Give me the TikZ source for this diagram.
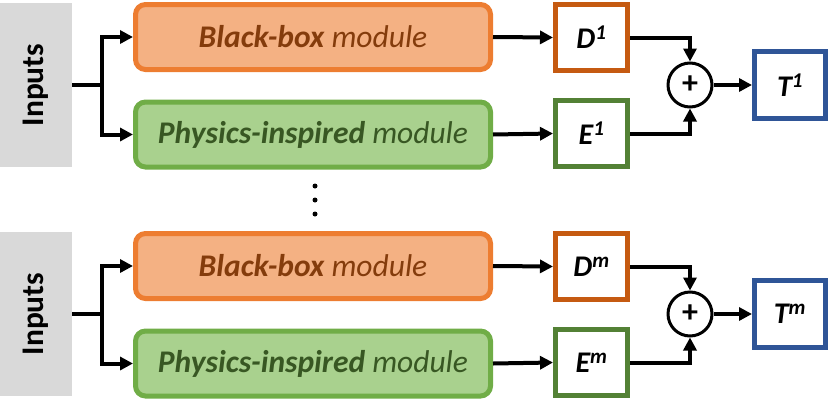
\documentclass[tikz,border=0pt]{standalone}
\usepackage{fontspec}
\setmainfont{Carlito}
\usetikzlibrary{arrows.meta}
\definecolor{bbfill}{HTML}{F4B183}
\definecolor{bbdraw}{HTML}{ED7D31}
\definecolor{bbtext}{HTML}{843C0C}
\definecolor{pifill}{HTML}{A9D18E}
\definecolor{pidraw}{HTML}{70AD47}
\definecolor{pitext}{HTML}{385723}
\definecolor{ddraw}{HTML}{C55A11}
\definecolor{edraw}{HTML}{538135}
\definecolor{tdraw}{HTML}{2F5597}
\definecolor{ingray}{HTML}{D9D9D9}
\tikzset{
  inbox/.style={fill=ingray, draw=none, minimum width=72pt, minimum height=164pt, inner sep=0pt},
  intext/.style={font=\fontsize{31.5}{36}\selectfont\bfseries, rotate=90},
  modbox/.style={rounded corners=10pt, line width=5pt, minimum width=355pt, minimum height=65pt, inner sep=0pt, font=\fontsize{31.5}{36}\selectfont\itshape},
  bbbox/.style={modbox, fill=bbfill, draw=bbdraw, text=bbtext},
  pibox/.style={modbox, fill=pifill, draw=pidraw, text=pitext},
  outbox/.style={line width=5pt, fill=white, minimum width=72pt, minimum height=66pt, inner sep=0pt, font=\fontsize{30}{34}\selectfont\bfseries\itshape},
  sumnode/.style={circle, draw, line width=3pt, minimum size=44pt, inner sep=0pt, font=\fontsize{32}{34}\selectfont\bfseries},
  conn/.style={line width=4pt},
  arr/.style={conn, -{Triangle[length=13pt,width=13pt]}},
}
\newcommand{\groupdraw}[3]{%
  \begin{scope}[yshift=#1]
  \node[inbox] (in#2) at (36,85) {};
  \node[intext] at (in#2) {Inputs};
  \node[bbbox] (bb#2) at (313,37) {\textbf{Black-box} module};
  \node[pibox] (pi#2) at (313,134.5) {\textbf{Physics-inspired} module};
  \node[outbox, draw=ddraw] (d#2) at (591.5,37.5) {D\textsuperscript{#3}};
  \node[outbox, draw=edraw] (e#2) at (591.5,133.5) {E\textsuperscript{#3}};
  \node[sumnode] (s#2) at (690,85) {+};
  \node[outbox, draw=tdraw, minimum width=71pt, minimum height=67pt] (t#2) at (790,85) {T\textsuperscript{#3}};
  \coordinate (j#2) at (102,85);
  \draw[conn] (in#2.east) -- (j#2);
  \draw[arr] (j#2) |- (bb#2.west);
  \draw[arr] (j#2) |- (pi#2.west);
  \draw[arr] (bb#2.east) -- (d#2.west);
  \draw[arr] (pi#2.east) -- (e#2.west);
  \draw[arr] (d#2.east) -| (s#2.north);
  \draw[arr] (e#2.east) -| (s#2.south);
  \draw[arr] (s#2.east) -- (t#2.west);
  \end{scope}}
\begin{document}
\begin{tikzpicture}[x=1pt,y=-1pt]
\useasboundingbox (0,0) rectangle (830,402);
\groupdraw{0pt}{a}{1}
\groupdraw{-229pt}{b}{m}
\foreach \yy [count=\i] in {186,200,214} \fill (315,\yy) circle (2.5pt) coordinate (dot\i);
\end{tikzpicture}
\end{document}
